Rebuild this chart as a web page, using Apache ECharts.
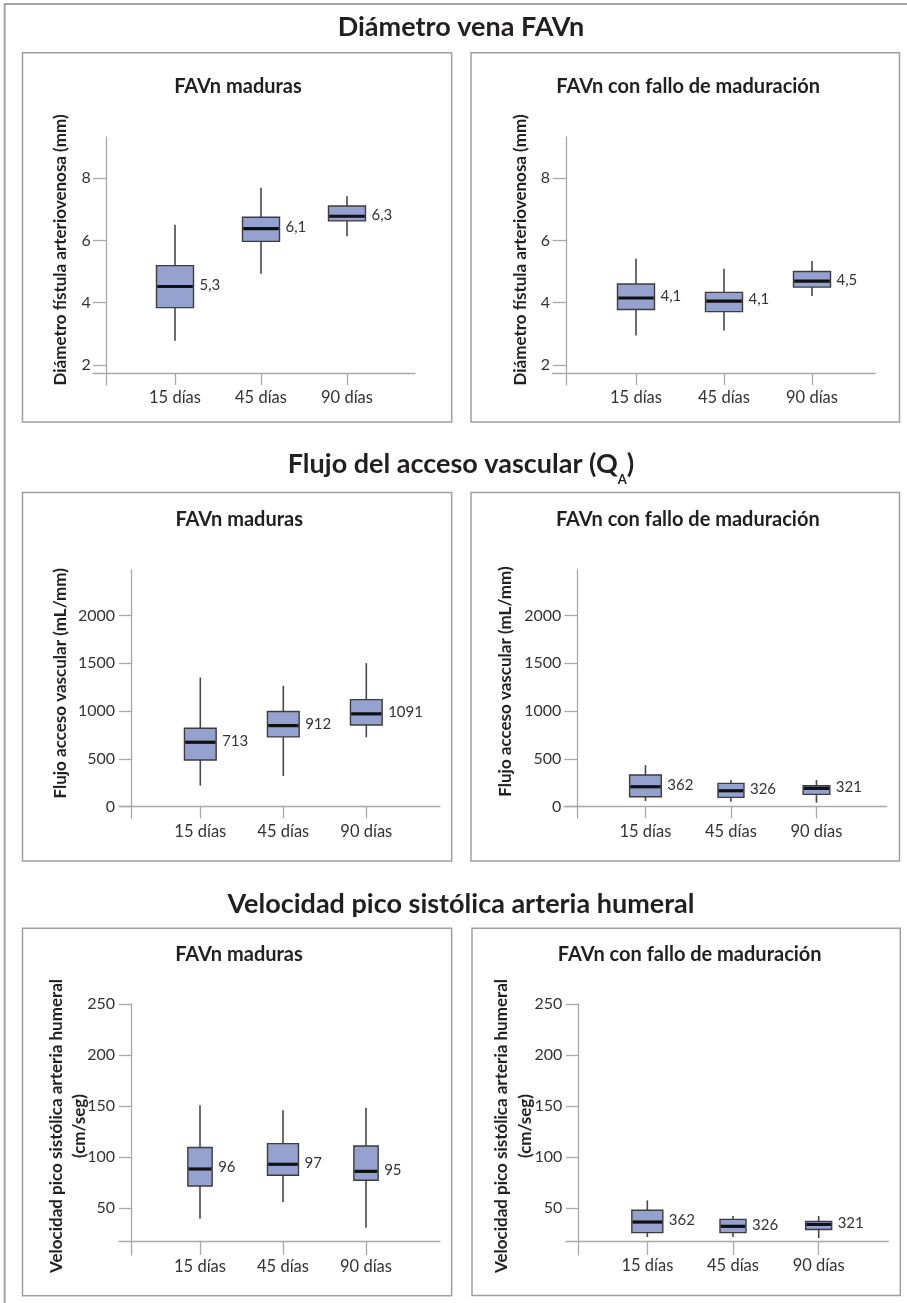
<!DOCTYPE html>
<html><head><meta charset="utf-8">
<script src="https://cdn.jsdelivr.net/npm/echarts@6/dist/echarts.min.js"></script>
<style>html,body{margin:0;padding:0;background:#fff}#c{width:907px;height:1303px}</style>
</head><body><div id="c"></div>
<script>
// ---------- DATA ----------
const categories = ['15 días', '45 días', '90 días'];
// each box: [mínimo, Q1, mediana, Q3, máximo]
const diamMaduras = [[2.77, 3.84, 4.52, 5.19, 6.51], [4.93, 5.97, 6.38, 6.75, 7.70], [6.14, 6.63, 6.78, 7.11, 7.42]];
const diamMadurasLabels = ['5,3', '6,1', '6,3'];
const diamFallo = [[2.94, 3.78, 4.15, 4.60, 5.41], [3.10, 3.71, 4.05, 4.33, 5.09], [4.21, 4.50, 4.69, 5.00, 5.34]];
const diamFalloLabels = ['4,1', '4,1', '4,5'];
const flujoMaduras = [[220, 489, 674, 821, 1351], [321, 730, 848, 995, 1264], [726, 855, 971, 1120, 1501]];
const flujoMadurasLabels = ['713', '912', '1091'];
const flujoFallo = [[59, 104, 209, 331, 435], [52, 98, 167, 244, 279], [42, 129, 192, 219, 279]];
const flujoFalloLabels = ['362', '326', '321'];
const velMaduras = [[39.5, 71.6, 88.3, 109.3, 150.8], [55.9, 82.1, 92.9, 113.2, 145.9], [30.7, 77.2, 86.0, 110.9, 148.2]];
const velMadurasLabels = ['96', '97', '95'];
const velFallo = [[21.6, 25.9, 36.3, 47.8, 57.5], [21.6, 25.9, 32.1, 38.9, 42.2], [20.6, 29.0, 34.0, 37.0, 42.2]];
const velFalloLabels = ['362', '326', '321'];
const diamTicks = [2, 4, 6, 8];
const flujoTicks = [0, 500, 1000, 1500, 2000];
const velTicks = [50, 100, 150, 200, 250];
const diamRange = [1.35, 9.33];
const flujoRange = [-121, 2475];
const velRange = [4, 250];

// ---------- LAYOUT / STYLE ----------
const FONT = 'Lato';
const AXIS_COLOR = '#a9a9a9';
const TEXT_COLOR = '#333333';
const TITLE_COLOR = '#231f20';
const panels = [
  {data: diamMaduras, labels: diamMadurasLabels, ticks: diamTicks, range: diamRange,
   axisX: 106.7, tickLen: 13.7, lineRight: 415, top: 137, bottom: 385, xLineY: 373,
   catLeft: 132, catWidth: 258, boxW: [37, 37, 37]},
  {data: diamFallo, labels: diamFalloLabels, ticks: diamTicks, range: diamRange,
   axisX: 566, tickLen: 13.3, lineRight: 875, top: 137, bottom: 385, xLineY: 373.3,
   catLeft: 592, catWidth: 264, boxW: [37, 37, 37]},
  {data: flujoMaduras, labels: flujoMadurasLabels, ticks: flujoTicks, range: flujoRange,
   axisX: 131, tickLen: 12, lineRight: 440, top: 570, bottom: 818.3, xLineY: null,
   catLeft: 158.8, catWidth: 249, boxW: [31.7, 31.7, 31.7]},
  {data: flujoFallo, labels: flujoFalloLabels, ticks: flujoTicks, range: flujoRange,
   axisX: 577.3, tickLen: 13, lineRight: 886.7, top: 570, bottom: 818.3, xLineY: null,
   catLeft: 602.7, catWidth: 256.5, boxW: [31.7, 26, 26.7]},
  {data: velMaduras, labels: velMadurasLabels, ticks: velTicks, range: velRange,
   axisX: 131, tickLen: 12, lineRight: 440, top: 1004, bottom: 1255, xLineY: 1241.7,
   catLeft: 158.5, catWidth: 249, boxW: [24.3, 31, 24.3]},
  {data: velFallo, labels: velFalloLabels, ticks: velTicks, range: velRange,
   axisX: 578.3, tickLen: 12.3, lineRight: 888.3, top: 1004, bottom: 1255, xLineY: 1241.3,
   catLeft: 604.5, catWidth: 257, boxW: [31, 26, 26]}
];

const grid = [], xAxis = [], yAxis = [], series = [];
panels.forEach((p, i) => {
  const H = p.bottom - p.top;
  const left = p.axisX - p.tickLen;
  const xLine = p.xLineY === null ? p.top + (p.range[1] - 0) / (p.range[1] - p.range[0]) * H : p.xLineY;
  const xOff = -(p.bottom - xLine);
  grid.push({left: left, top: p.top, width: p.lineRight - left, height: H});
  grid.push({left: p.catLeft, top: p.top, width: p.catWidth, height: H});
  xAxis.push({gridIndex: 2 * i, type: 'value', min: 0, max: 1, offset: xOff,
    axisLine: {show: true, onZero: false, lineStyle: {color: AXIS_COLOR, width: 1.3}},
    axisTick: {show: false}, axisLabel: {show: false}, splitLine: {show: false}});
  yAxis.push({gridIndex: 2 * i, type: 'value', min: p.range[0], max: p.range[1], offset: -p.tickLen,
    axisLine: {show: true, onZero: false, lineStyle: {color: AXIS_COLOR, width: 1.3}},
    axisTick: {show: true, length: p.tickLen, customValues: p.ticks, lineStyle: {color: AXIS_COLOR, width: 1.3}},
    axisLabel: {customValues: p.ticks, margin: 16, fontSize: 16, fontFamily: FONT, color: TEXT_COLOR,
      formatter: v => String(v)},
    splitLine: {show: false}});
  xAxis.push({gridIndex: 2 * i + 1, type: 'category', data: categories, offset: xOff, boundaryGap: true,
    axisLine: {show: false},
    axisTick: {show: true, alignWithLabel: true, length: p.bottom - xLine, lineStyle: {color: AXIS_COLOR, width: 1.3}},
    axisLabel: {margin: 16, fontSize: 16.5, fontFamily: FONT, color: TEXT_COLOR},
    splitLine: {show: false}});
  yAxis.push({gridIndex: 2 * i + 1, type: 'value', min: p.range[0], max: p.range[1], show: false, splitLine: {show: false}});
  series.push({
    type: 'custom', xAxisIndex: 2 * i + 1, yAxisIndex: 2 * i + 1,
    encode: {x: 0, y: [1, 2, 3, 4, 5]},
    data: p.data.map((d, j) => [j].concat(d)),
    renderItem: function (params, api) {
      const j = api.value(0);
      const lo = api.coord([j, api.value(1)]);
      const q1 = api.coord([j, api.value(2)]);
      const md = api.coord([j, api.value(3)]);
      const q3 = api.coord([j, api.value(4)]);
      const hi = api.coord([j, api.value(5)]);
      const bw = p.boxW[j];
      const cx = md[0];
      return {type: 'group', children: [
        {type: 'line', shape: {x1: cx, y1: hi[1], x2: cx, y2: lo[1]}, style: {stroke: '#474747', lineWidth: 1.6}},
        {type: 'rect', shape: {x: cx - bw / 2, y: q3[1], width: bw, height: q1[1] - q3[1]},
         style: {fill: '#95a1ce', stroke: '#3d3d3d', lineWidth: 1.4}},
        {type: 'line', shape: {x1: cx - bw / 2 + 0.7, y1: md[1], x2: cx + bw / 2 - 0.7, y2: md[1]},
         style: {stroke: '#111111', lineWidth: 3.2}},
        {type: 'text', x: cx + bw / 2 + 6, y: md[1] - 1.5,
         style: {text: p.labels[j], fill: TEXT_COLOR, fontSize: 15, fontFamily: FONT, align: 'left', verticalAlign: 'middle'}}
      ]};
    }
  });
});

// ---------- decorative frame & titles ----------
const boxes = [
  [22.5, 52.7, 451.7, 422], [471, 52.7, 899.5, 422],
  [22.5, 492.5, 451.7, 861], [471, 492.5, 899.5, 861],
  [22.5, 928.3, 451.7, 1295.7], [472, 928.3, 900.3, 1295.5]
];
const graphic = [
  {type: 'polyline', shape: {points: [[4.7, 1303], [4.7, 4], [907, 4]]}, style: {fill: 'none', stroke: '#a3a3a3', lineWidth: 2}}
];
boxes.forEach(b => graphic.push({type: 'rect', shape: {x: b[0], y: b[1], width: b[2] - b[0], height: b[3] - b[1]},
  style: {fill: 'none', stroke: '#a0a0a0', lineWidth: 1.5}}));
function txt(x, y, text, size, weight, extra) {
  return Object.assign({type: 'text', x: x, y: y, style: {text: text, fill: TITLE_COLOR, fontSize: size,
    fontWeight: weight, fontFamily: FONT, align: 'center', verticalAlign: 'middle'}}, extra || {});
}
graphic.push(txt(461, 27.5, 'Diámetro vena FAVn', 27, 'bold'));
graphic.push({type: 'text', x: 461, y: 464.6, style: {
  text: '{m|Flujo del acceso vascular (Q}{s|A}{m|)}', align: 'center', verticalAlign: 'middle',
  rich: {m: {fontSize: 27, fontWeight: 'bold', fontFamily: FONT, fill: TITLE_COLOR},
         s: {fontSize: 13, fontWeight: 'bold', fontFamily: FONT, fill: TITLE_COLOR, padding: [30, 0, 0, 0]}}}});
graphic.push(txt(461, 904.6, 'Velocidad pico sistólica arteria humeral', 27, 'bold'));
const subs = [[238, 86.7, 'FAVn maduras'], [688.2, 86.7, 'FAVn con fallo de maduración'],
  [239.2, 520, 'FAVn maduras'], [687.8, 520, 'FAVn con fallo de maduración'],
  [239, 955, 'FAVn maduras'], [689.7, 955, 'FAVn con fallo de maduración']];
subs.forEach(s => graphic.push(txt(s[0], s[1], s[2], 20, 'bold')));
const rot = {rotation: Math.PI / 2};
const ynames = [[60.8, 250, 'Diámetro fístula arteriovenosa (mm)'], [520.8, 250, 'Diámetro fístula arteriovenosa (mm)'],
  [60.8, 683.3, 'Flujo acceso vascular (mL/mm)'], [505.2, 681.5, 'Flujo acceso vascular (mL/mm)'],
  [68.2, 1126, 'Velocidad pico sistólica arteria humeral\n(cm/seg)'], [513.7, 1126, 'Velocidad pico sistólica arteria humeral\n(cm/seg)']];
ynames.forEach(n => {
  const t = txt(n[0], n[1], n[2], 17, 'bold', rot);
  t.style.lineHeight = 23.5;
  graphic.push(t);
});

const chart = echarts.init(document.getElementById('c'), null, {renderer: 'canvas'});
chart.setOption({
  backgroundColor: '#ffffff',
  animation: false,
  grid: grid, xAxis: xAxis, yAxis: yAxis, series: series,
  graphic: graphic
});
</script></body></html>
